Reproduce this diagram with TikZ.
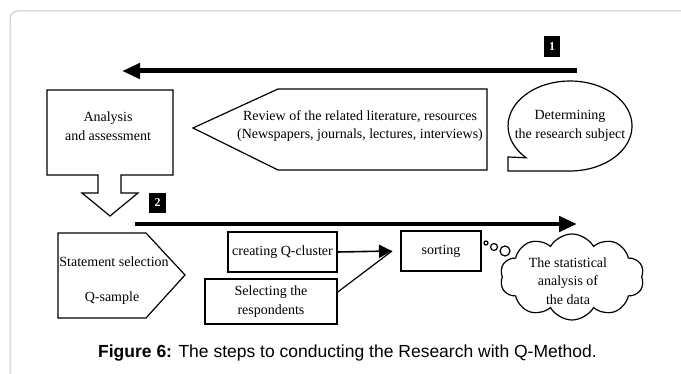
\documentclass[tikz,border=0pt]{standalone}
\usepackage{fontspec}
\setmainfont{Liberation Serif}
\newfontfamily\capfont{Liberation Sans}
\usetikzlibrary{arrows.meta,shapes.symbols}

\begin{document}
\begin{tikzpicture}[x=1pt, y=-1pt,
  box/.style={rectangle, draw, line width=1.2pt, inner sep=2pt, align=center,
              font=\fontsize{14}{18.5}\selectfont},
  txt/.style={align=center, inner sep=0pt, font=\fontsize{14}{18.5}\selectfont},
  outline/.style={draw, line width=1.2pt, line join=miter},
  tag/.style={fill=black, text=white, inner sep=0pt, font=\bfseries\fontsize{12}{12}\selectfont},
  bigarrow/.style={-{Triangle[length=18pt, width=15pt]}, line width=5pt},
  linkarrow/.style={-{Triangle[length=13pt, width=13pt]}, line width=1.6pt},
  puff/.style={circle, draw, line width=1.2pt, inner sep=0pt}
]
  \useasboundingbox (0,0) rectangle (681,374);
  \draw[gray!45, line width=1pt, rounded corners=8pt] (10,374) -- (10,11) -- (681,11);

  % step 1
  \node[tag, minimum width=16pt, minimum height=21pt] (t1) at (552,46.5) {1};
  \coordinate (a1s) at (577,71);
  \coordinate (a1e) at (122,71);
  \draw[bigarrow] (a1s) -- (a1e);

  \draw[outline] (526.2,157.8) arc[start angle=135, end angle=450, x radius=62, y radius=45]
    -- (508,171) -- (508,157) -- cycle;
  \node[txt] (subj) at (570,126) {Determining\\the research subject};

  \draw[outline] (193,128) -- (278,89) -- (487,89) -- (487,170) -- (278,170) -- cycle;
  \node[txt] (rev) at (360,126) {Review of the related literature, resources\\(Newspapers, journals, lectures, interviews)};

  \draw[outline] (98,175) -- (47,175) -- (47,90) -- (173,90) -- (173,175) -- (121,175)
    -- (121,193) -- (138,193) -- (110,216) -- (82,193) -- (98,193) -- cycle;
  \node[txt] (ana) at (108,126) {Analysis\\and assessment};

  % step 2
  \node[tag, minimum width=17pt, minimum height=20pt] (t2) at (157.5,203) {2};
  \coordinate (a2s) at (135,224);
  \coordinate (a2e) at (577,224);
  \draw[bigarrow, line width=4.5pt] (a2s) -- (a2e);

  \draw[outline] (58,233) -- (146,233) -- (185,275) -- (146,318) -- (58,318) -- cycle;
  \node[txt] (stmt) at (114,262) {Statement selection};
  \node[txt] (qs) at (112,298) {Q-sample};

  \node[box, minimum width=109pt, minimum height=40pt] (clus) at (282.5,252) {creating Q-cluster};
  \node[box, minimum width=132pt, minimum height=45pt] (resp) at (271,301.5) {Selecting the\\respondents};
  \node[box, minimum width=80pt, minimum height=40pt] (sort) at (441,251) {sorting};

  \coordinate (meet) at (392,251);
  \draw[linkarrow] (clus.east) -- (meet);
  \draw[line width=1.2pt] (resp.8) -- (meet);

  \node[puff, minimum size=4pt] (p1) at (486,243) {};
  \node[puff, minimum size=7pt] (p2) at (494,247) {};
  \node[puff, minimum size=10pt] (p3) at (505,251) {};
  \node[cloud, draw, line width=1.2pt, cloud puffs=10, cloud puff arc=120, aspect=2,
        minimum width=144pt, minimum height=86pt, inner sep=0pt] (cloud) at (572,277) {};
  \node[txt] (stat) at (568,281) {The statistical\\analysis of\\the data};

  \node[inner sep=0pt, font=\capfont\fontsize{17.5}{20}\selectfont] (cap) at (347.5,353)
    {\textbf{Figure 6:} The steps to conducting the Research with Q-Method.};
\end{tikzpicture}
\end{document}
